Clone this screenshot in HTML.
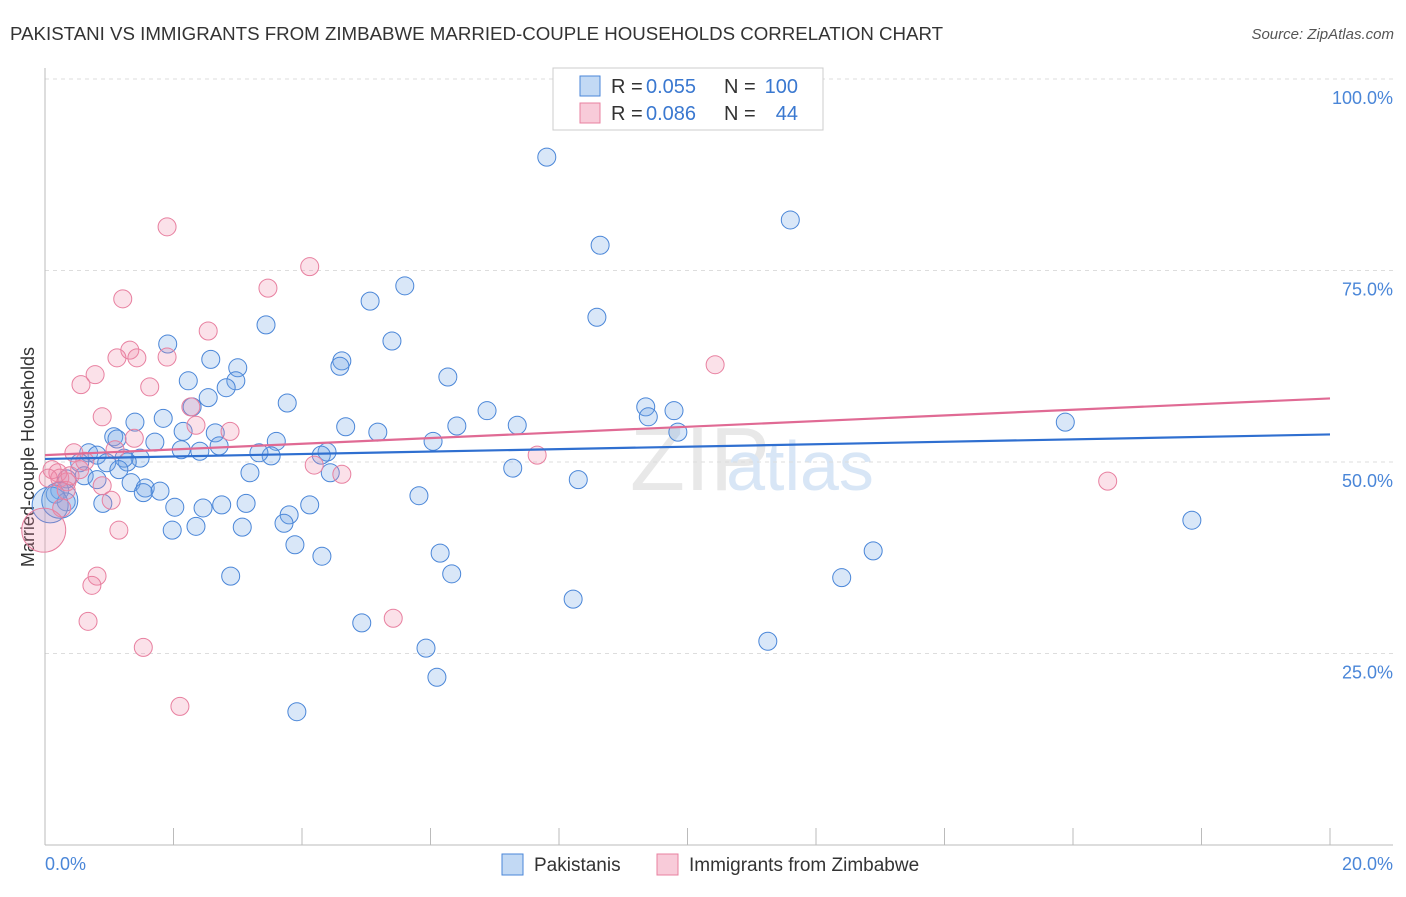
<!DOCTYPE html>
<html><head><meta charset="utf-8"><style>
body{margin:0;background:#fff;font-family:"Liberation Sans",sans-serif}
svg text{font-family:"Liberation Sans",sans-serif}
</style></head><body>
<svg id="c" width="1406" height="892"></svg>
<script>
const blueX=[],blueY=[],pinkX=[],pinkY=[];
const bluePx=[[547,157],[790,220],[600,245],[405,286],[370,301],[597,317],[266,325],[392,341],[168,344],[342,361],[340,366],[211,359],[238,368],[448,377],[188,381],[236,381],[226,388],[208,398],[287,403],[192,407],[163,418],[135,422],[487,411],[646,407],[674,411],[648,417],[1065,422],[346,427],[517,425],[457,426],[378,432],[183,431],[678,432],[215,433],[155,442],[114,437],[117,439],[276,441],[433,441],[219,446],[181,450],[200,451],[327,452],[321,455],[271,456],[259,453],[89,453],[97,455],[140,458],[127,462],[107,463],[80,463],[124,458],[513,468],[330,473],[250,473],[84,476],[67,479],[97,480],[119,470],[131,483],[578,480],[145,488],[160,491],[143,493],[60,490],[55,494],[419,496],[310,505],[246,503],[222,505],[103,503],[175,507],[203,508],[66,502],[289,515],[284,523],[196,526],[242,527],[172,530],[1192,520],[295,545],[440,553],[322,556],[873,551],[231,576],[452,574],[842,578],[573,599],[362,623],[768,641],[426,648],[437,677],[297,712],[50,505],[60,500]];
const pinkPx=[[167,227],[310,267],[268,288],[123,299],[208,331],[715,365],[130,350],[117,358],[137,358],[167,357],[95,375],[81,385],[150,387],[191,407],[102,417],[196,425],[230,431],[134,438],[74,453],[85,461],[537,455],[314,465],[342,474],[1108,481],[52,470],[58,473],[60,478],[67,482],[102,486],[66,490],[111,500],[62,508],[119,530],[97,576],[92,585],[88,621],[393,618],[143,647],[180,706],[44,530],[70,476],[115,450],[48,478],[80,470]];
bluePx.forEach(p=>{blueX.push(+((p[0]-45)/1285*20).toFixed(2));blueY.push(+((845-p[1])/766*100).toFixed(1));});
pinkPx.forEach(p=>{pinkX.push(+((p[0]-45)/1285*20).toFixed(2));pinkY.push(+((845-p[1])/766*100).toFixed(1));});
const blueBig=[94,95], pinkBig=[39];
const blueTrend=[50.4,53.6], pinkTrend=[50.9,58.3];
const yTicks=[25,50,75,100];
const xTickLabels=["0.0%","20.0%"];

const svg=document.getElementById('c');
const NS="http://www.w3.org/2000/svg";
const X=v=>45+v/20*1285, Y=v=>845-v/100*766;
function el(t,a,txt){const e=document.createElementNS(NS,t);for(const k in a)e.setAttribute(k,a[k]);if(txt!=null)e.textContent=txt;svg.appendChild(e);return e;}

let t=el('text',{x:10,y:40,'font-size':18.7,fill:'#333'},'PAKISTANI VS IMMIGRANTS FROM ZIMBABWE MARRIED-COUPLE HOUSEHOLDS CORRELATION CHART');

t=el('text',{x:1394,y:39,'font-size':15,fill:'#555','text-anchor':'end','font-style':'italic'},'Source: ZipAtlas.com');


t=el('text',{x:700,y:490,'font-size':90,fill:'#e8e8e8','text-anchor':'middle','font-family':'Liberation Serif'},'ZIP');

t=el('text',{x:800,y:490,'font-size':70,fill:'#d8e6f6','text-anchor':'middle'},'atlas');


yTicks.forEach(v=>{
 let g=el('line',{x1:45,x2:1393,y1:Y(v),y2:Y(v),stroke:'#ddd','stroke-dasharray':'4,4'});
 
 let l=el('text',{x:1393,y:Y(v)+25,'font-size':18,fill:'#4a86d8','text-anchor':'end'},v.toFixed(1)+'%');
 
});
let a=el('line',{x1:45,x2:45,y1:68,y2:845,stroke:'#bbb'});
a=el('line',{x1:45,x2:1393,y1:845,y2:845,stroke:'#bbb'});
for(let i=1;i<=10;i++){let k=el('line',{x1:X(i*2),x2:X(i*2),y1:828,y2:845,stroke:'#bbb'});}
t=el('text',{x:45,y:870,'font-size':18,fill:'#4a86d8'},xTickLabels[0]);
t=el('text',{x:1393,y:870,'font-size':18,fill:'#4a86d8','text-anchor':'end'},xTickLabels[1]);
t=el('text',{x:0,y:0,'font-size':18,fill:'#333','text-anchor':'middle',transform:'translate(34,457) rotate(-90)'},'Married-couple Households');


blueX.forEach((x,i)=>{const c=el('circle',{cx:X(x),cy:Y(blueY[i]),r:blueBig.includes(i)?18:9,fill:'rgba(120,170,230,0.28)',stroke:'#4a86d8','stroke-width':1});
 });
pinkX.forEach((x,i)=>{const c=el('circle',{cx:X(x),cy:Y(pinkY[i]),r:pinkBig.includes(i)?22:9,fill:'rgba(240,140,170,0.26)',stroke:'#e880a0','stroke-width':1});
 });

let tl=el('line',{x1:X(0),y1:Y(blueTrend[0]),x2:X(20),y2:Y(blueTrend[1]),stroke:'#2f6fd0','stroke-width':2.2});

tl=el('line',{x1:X(0),y1:Y(pinkTrend[0]),x2:X(20),y2:Y(pinkTrend[1]),stroke:'#e06a94','stroke-width':2.2});


let lg=el('rect',{x:553,y:68,width:270,height:62,fill:'#fff',stroke:'#ccc'});
[[86,'rgba(120,170,230,0.45)','#4a86d8','0.055','100'],[113,'rgba(240,140,170,0.45)','#e880a0','0.086','44']].forEach(r=>{
 let s=el('rect',{x:580,y:r[0]-10,width:20,height:20,fill:r[1],stroke:r[2]});
 let a1=el('text',{x:611,y:r[0]+7,'font-size':20,fill:'#333'},'R =');
 let a2=el('text',{x:646,y:r[0]+7,'font-size':20,fill:'#3a78d0'},r[3]);
 let a3=el('text',{x:724,y:r[0]+7,'font-size':20,fill:'#333'},'N =');
 let a4=el('text',{x:798,y:r[0]+7,'font-size':20,fill:'#3a78d0','text-anchor':'end'},r[4]);
});
[[502,'rgba(120,170,230,0.45)','#4a86d8','Pakistanis'],[657,'rgba(240,140,170,0.45)','#e880a0','Immigrants from Zimbabwe']].forEach(r=>{
 let s=el('rect',{x:r[0],y:854,width:21,height:21,fill:r[1],stroke:r[2]});
 let tx=el('text',{x:r[0]+32,y:871,'font-size':19,fill:'#333'},r[3]);
});
</script>
</body></html>
